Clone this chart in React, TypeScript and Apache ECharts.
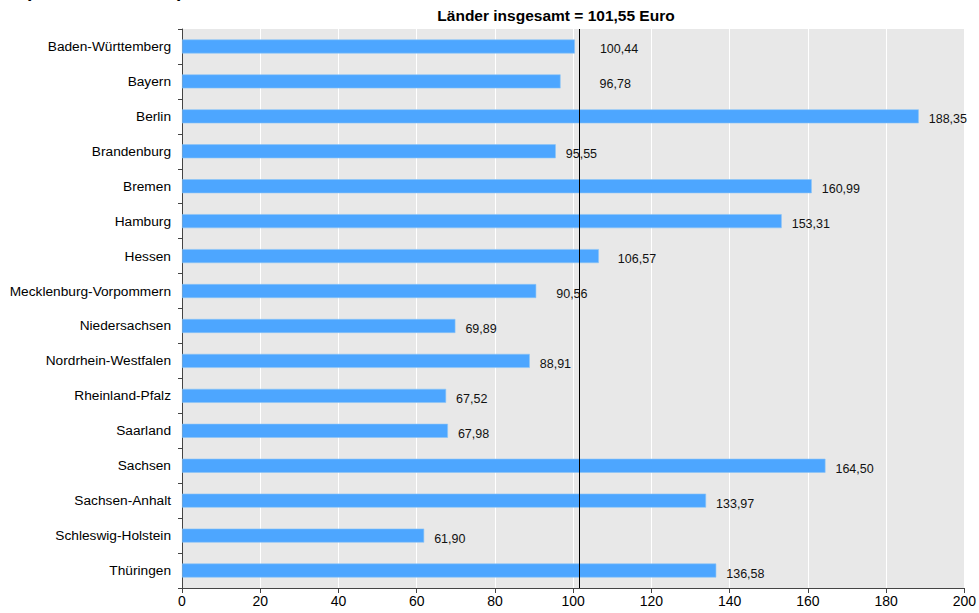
import React, { useEffect, useRef } from "react";
import * as echarts from "echarts";

const categories = [
  "Baden-Württemberg",
  "Bayern",
  "Berlin",
  "Brandenburg",
  "Bremen",
  "Hamburg",
  "Hessen",
  "Mecklenburg-Vorpommern",
  "Niedersachsen",
  "Nordrhein-Westfalen",
  "Rheinland-Pfalz",
  "Saarland",
  "Sachsen",
  "Sachsen-Anhalt",
  "Schleswig-Holstein",
  "Thüringen",
];

const values = [
  100.44, 96.78, 188.35, 95.55, 160.99, 153.31, 106.57, 90.56, 69.89, 88.91, 67.52,
  67.98, 164.5, 133.97, 61.9, 136.58,
];

const averageValue = 101.55;
const averageLabel = "Länder insgesamt = 101,55 Euro";
const topTitle = "(Euro in Ländern)";

const xTicks = { min: 0, max: 200, interval: 20 };

// label distance tweaks (style only)
const labelDistanceOverride: Record<string, number> = {
  "Baden-Württemberg": 25,
  Bayern: 39,
  Hessen: 19,
  "Mecklenburg-Vorpommern": 20,
};

const FONT = "'Liberation Sans', Arial, Helvetica, sans-serif";

const fmt = (v: number) => v.toFixed(2).replace(".", ",");

export default function App() {
  const ref = useRef<HTMLDivElement>(null);

  useEffect(() => {
    document.body.style.margin = "0";
    if (!ref.current) return;
    const chart = echarts.init(ref.current, undefined, { renderer: "svg" });
    const data = values.map((v, i) => {
      const d = labelDistanceOverride[categories[i]];
      return d !== undefined
        ? { value: v, label: { distance: d } }
        : { value: v };
    });
    chart.setOption({
      animation: false,
      backgroundColor: "#ffffff",
      textStyle: { fontFamily: FONT },
      graphic: [
        {
          type: "text",
          x: 556,
          y: 15,
          style: {
            text: averageLabel,
            font: `bold 15.5px ${FONT}`,
            fill: "#000000",
            textAlign: "center",
            textVerticalAlign: "middle",
          },
        },
        {
          type: "text",
          x: 25,
          y: 0,
          style: {
            text: topTitle,
            font: `bold 19px ${FONT}`,
            fill: "#000000",
            textVerticalAlign: "bottom",
          },
        },
      ],
      grid: {
        left: 182,
        right: 8,
        top: 29,
        bottom: 25,
        containLabel: false,
        show: true,
        backgroundColor: "#e8e8e8",
        borderWidth: 0,
      },
      xAxis: {
        type: "value",
        min: xTicks.min,
        max: xTicks.max,
        interval: xTicks.interval,
        axisLine: { show: true, lineStyle: { color: "#444444", width: 1 } },
        axisTick: { show: true, length: 5, lineStyle: { color: "#444444" } },
        axisLabel: { color: "#000000", fontSize: 14, fontFamily: FONT, margin: 6 },
        splitLine: { show: true, lineStyle: { color: "#ffffff", width: 1 } },
      },
      yAxis: {
        type: "category",
        data: categories,
        inverse: true,
        axisLine: { show: true, lineStyle: { color: "#444444", width: 1 } },
        axisTick: { show: true, length: 4, lineStyle: { color: "#444444" } },
        axisLabel: { color: "#000000", fontSize: 13.7, fontFamily: FONT, margin: 11 },
        splitLine: { show: false },
        splitArea: { show: false },
      },
      series: [
        {
          type: "bar",
          data,
          barWidth: 14,
          itemStyle: { color: "#4da6ff", borderColor: "#8cc4f7", borderWidth: 0.6 },
          label: {
            show: true,
            position: "right",
            distance: 10,
            offset: [0, 3],
            color: "#111111",
            fontSize: 12.5,
            fontFamily: FONT,
            formatter: (p: any) => fmt(p.value),
          },
          markLine: {
            silent: true,
            symbol: "none",
            label: { show: false },
            lineStyle: { color: "#000000", width: 1, type: "solid" },
            data: [{ xAxis: averageValue }],
          },
          z: 3,
        },
      ],
    });
    return () => chart.dispose();
  }, []);

  return <div ref={ref} style={{ width: 979, height: 613 }} />;
}
